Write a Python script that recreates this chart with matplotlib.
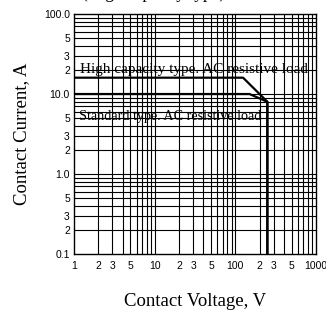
import numpy as np
import matplotlib.pyplot as plt
from matplotlib.ticker import FixedLocator, FixedFormatter, NullFormatter

# contact voltage (V) / contact current (A) limits
hc_volt = [1, 125, 250, 250]
hc_amp = [16, 16, 8, 0.1]
std_volt = [1, 150, 250, 250]
std_amp = [10, 10, 8, 0.1]

hc_label = "High capacity type. AC resistive load"
std_label = "Standard type. AC resistive load"

x_ticks = [1, 2, 3, 5, 10, 20, 30, 50, 100, 200, 300, 500, 1000]
x_labels = ["1", "2", "3", "5", "10", "2", "3", "5", "100", "2", "3", "5", "1000"]
y_ticks = [0.1, 0.2, 0.3, 0.5, 1, 2, 3, 5, 10, 20, 30, 50, 100]
y_labels = ["0.1", "2", "3", "5", "1.0", "2", "3", "5", "10.0", "2", "3", "5", "100.0"]

serif = ['Liberation Serif', 'DejaVu Serif']
sans = ['Liberation Sans', 'DejaVu Sans']

fig = plt.figure(figsize=(3.26, 3.11), dpi=100)
ax = fig.add_axes([0.227, 0.183, 0.742, 0.772])
ax.set_xscale('log')
ax.set_yscale('log')
ax.set_xlim(1, 1000)
ax.set_ylim(0.1, 100)

# full grid on every decade subdivision
grid_x = [m * d for d in [1, 10, 100] for m in range(1, 10)]
grid_y = [m * d for d in [0.1, 1, 10] for m in range(1, 10)]
for gx in grid_x[1:]:
    ax.axvline(gx, color='black', lw=0.8, zorder=1)
for gy in grid_y[1:]:
    ax.axhline(gy, color='black', lw=0.8, zorder=1)

ax.plot(hc_volt, hc_amp, color='black', lw=1.6, zorder=3)
ax.plot(std_volt, std_amp, color='black', lw=1.6, zorder=3)

ax.text(1.18, 20.5, hc_label, fontsize=11, family=serif, va='center', zorder=4)
ax.text(1.14, 5.2, std_label, fontsize=10.2, family=serif, va='center', zorder=4)

ax.xaxis.set_major_locator(FixedLocator(x_ticks))
ax.xaxis.set_major_formatter(FixedFormatter(x_labels))
ax.xaxis.set_minor_formatter(NullFormatter())
ax.yaxis.set_major_locator(FixedLocator(y_ticks))
ax.yaxis.set_major_formatter(FixedFormatter(y_labels))
ax.yaxis.set_minor_formatter(NullFormatter())
ax.tick_params(which='both', length=0, labelsize=7.5, pad=3)
ax.tick_params(axis='x', pad=5)
for lab in ax.get_xticklabels() + ax.get_yticklabels():
    lab.set_family(sans)

for s in ax.spines.values():
    s.set_linewidth(1.0)

ax.set_xlabel("Contact Voltage, V", fontsize=13.5, family=serif, labelpad=16)
ax.set_ylabel("Contact Current, A", fontsize=13.5, family=serif, labelpad=10)

# title mostly outside the picture, as in the source scan
fig.text(0.252, 1.008, "(High capacity type)", fontsize=12.5,
         family=serif, ha='left', va='baseline')

fig.savefig("out.png", dpi=100)
